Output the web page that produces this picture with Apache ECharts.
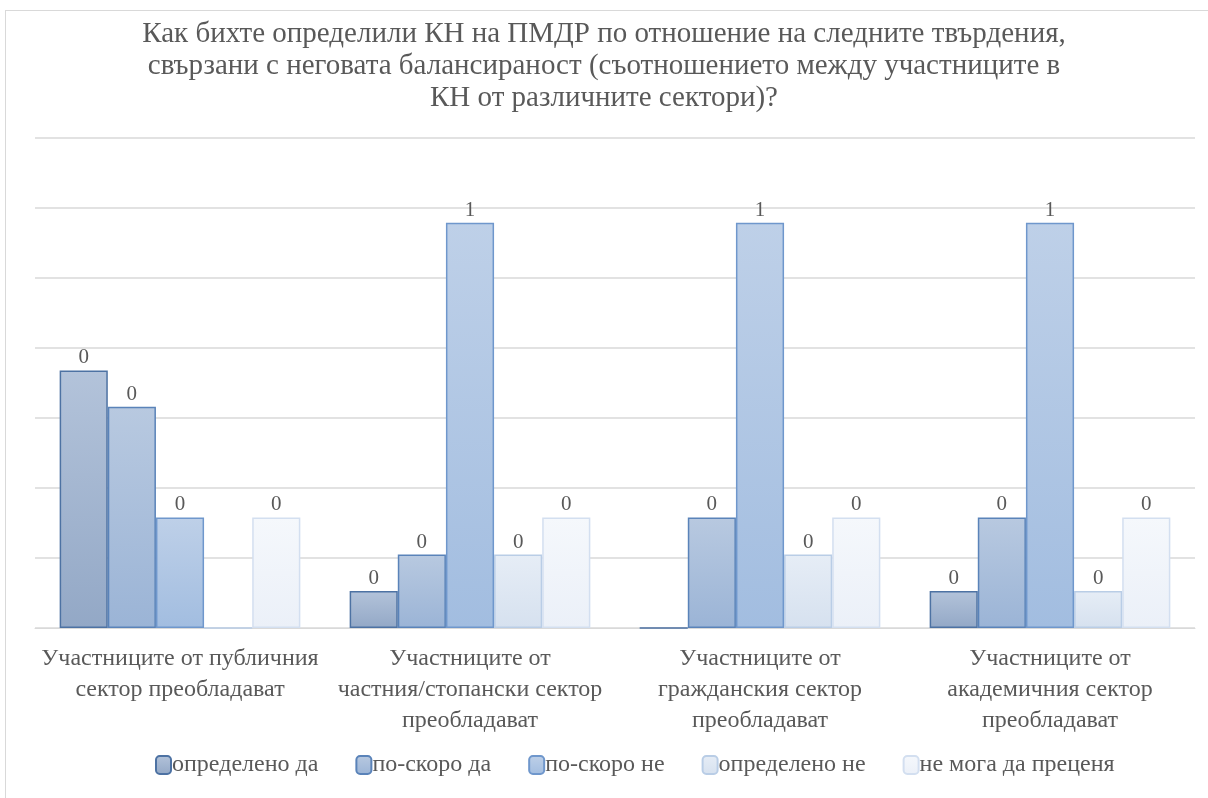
<!DOCTYPE html>
<html>
<head>
<meta charset="utf-8">
<script src="https://cdn.jsdelivr.net/npm/echarts@6/dist/echarts.min.js"></script>
<style>
  html, body { margin: 0; padding: 0; background: #fff; }
  #frame { position: absolute; left: 5px; top: 10px; width: 1210px; height: 800px; border: 1px solid #d9d9d9; box-sizing: border-box; }
  #chart { position: absolute; left: 0; top: 0; width: 1208px; height: 798px; }
</style>
</head>
<body>
<div id="frame"></div>
<div id="chart"></div>
<script>
// данни
const categories = [
  "Участниците от публичния\nсектор преобладават",
  "Участниците от\nчастния/стопански сектор\nпреобладават",
  "Участниците от\nгражданския сектор\nпреобладават",
  "Участниците от\nакадемичния сектор\nпреобладават"
];
const seriesNames = ["определено да", "по-скоро да", "по-скоро не", "определено не", "не мога да преценя"];
const opredelenoDa = [0.368, 0.053, 0, 0.053];
const poSkoroDa = [0.316, 0.105, 0.158, 0.158];
const poSkoroNe = [0.158, 0.579, 0.579, 0.579];
const opredelenoNe = [0, 0.105, 0.105, 0.053];
const neMoga = [0.158, 0.158, 0.158, 0.158];
const values = [opredelenoDa, poSkoroDa, poSkoroNe, opredelenoNe, neMoga];

// цветове: горе, долу, рамка
const colors = [
  ["#b3c3da", "#93a8c6", "#4d72a3"],
  ["#b8c9e0", "#9bb4d6", "#5a83b9"],
  ["#bed0e8", "#a2bde0", "#6f97cc"],
  ["#e6edf6", "#d6e1ef", "#b9cde6"],
  ["#f5f8fc", "#ebf0f8", "#d3dff0"]
];

const chart = echarts.init(document.getElementById("chart"));
const font = "'Liberation Serif', 'DejaVu Serif', serif";

const option = {
  title: {
    text: "Как бихте определили КН на ПМДР по отношение на следните твърдения,\nсвързани с неговата балансираност (съотношението между участниците в\nКН от различните сектори)?",
    left: "center",
    top: 13,
    textStyle: { fontFamily: font, fontSize: 29, fontWeight: "normal", color: "#595959", lineHeight: 32 }
  },
  legend: {
    bottom: 16,
    left: 150,
    itemWidth: 15,
    itemHeight: 18,
    itemGap: 37,
    textStyle: { fontFamily: font, fontSize: 24, color: "#595959", padding: [0, 0, 0, -4] },
    data: seriesNames
  },
  grid: { left: 35, right: 13, top: 138, bottom: 170 },
  xAxis: {
    type: "category",
    data: categories,
    axisLine: { lineStyle: { color: "#d9d9d9" } },
    axisTick: { show: false },
    axisLabel: { fontFamily: font, fontSize: 24, color: "#595959", lineHeight: 31, margin: 15, interval: 0 }
  },
  yAxis: {
    type: "value",
    min: 0,
    max: 0.7,
    interval: 0.1,
    axisLabel: { show: false },
    axisLine: { show: false },
    axisTick: { show: false },
    splitLine: { lineStyle: { color: "#d9d9d9", width: 1.5 } }
  },
  series: seriesNames.map((name, i) => ({
    name: name,
    type: "bar",
    data: values[i],
    barGap: "0%",
    barCategoryGap: "17%",
    itemStyle: {
      color: new echarts.graphic.LinearGradient(0, 0, 0, 1, [
        { offset: 0, color: colors[i][0] },
        { offset: 1, color: colors[i][1] }
      ]),
      borderColor: colors[i][2],
      borderWidth: 1.5
    },
    label: {
      show: true,
      position: "top",
      distance: 2,
      fontFamily: font,
      fontSize: 21,
      color: "#595959",
      formatter: (p) => (p.value === 0 ? "" : Math.round(p.value).toString())
    }
  }))
};

chart.setOption(option);
</script>
</body>
</html>
